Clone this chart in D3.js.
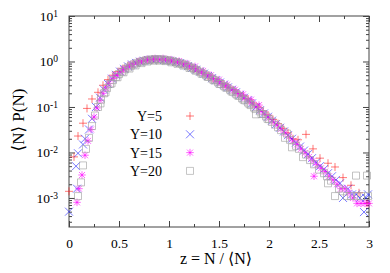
<!DOCTYPE html>
<html>
<head>
<meta charset="utf-8">
<style>
  body { margin: 0; background: #fff; }
  svg { display: block; font-family: "Liberation Serif", "DejaVu Serif", serif; }
</style>
</head>
<body>
<div id="chart"></div>
<script src="https://cdn.jsdelivr.net/npm/d3@7"></script>
<script>
// [z, <N>P(N)] pairs
const y5 = [[0.00,1.4e-3],[0.05,8.0e-3],[0.09,0.023],[0.14,0.044],[0.18,0.093],[0.23,0.15],[0.29,0.21],[0.34,0.30],
  [0.39,0.40],[0.44,0.50],[0.49,0.60],[0.54,0.70],[0.59,0.80],[0.64,0.88],[0.69,0.96],[0.74,1.03],[0.79,1.08],
  [0.84,1.10],[0.89,1.10],[0.94,1.08],[0.99,1.04],[1.04,0.99],[1.09,0.95],[1.14,0.88],[1.19,0.79],[1.24,0.70],
  [1.29,0.61],[1.34,0.55],[1.39,0.48],[1.44,0.42],[1.49,0.37],[1.54,0.32],[1.59,0.27],[1.64,0.235],[1.69,0.20],
  [1.74,0.175],[1.79,0.15],[1.84,0.122],[1.89,0.10],[1.94,0.082],[1.99,0.066],[2.04,0.053],[2.09,0.043],
  [2.14,0.034],[2.19,0.027],[2.24,0.020],[2.29,0.019],[2.37,0.025],[2.44,0.012],[2.51,0.0075],[2.59,0.0058],
  [2.66,0.0048],[2.74,0.0028],[2.82,0.0019],[2.90,0.0013],[2.98,7.6e-4]];

const y10 = [[0.00,5.0e-4],[0.07,5.0e-3],[0.08,1.6e-3],[0.09,9.6e-3],[0.14,0.015],[0.16,0.020],[0.20,0.032],
  [0.23,0.055],[0.27,0.10],[0.31,0.16],[0.35,0.24],[0.39,0.32],[0.43,0.42],[0.47,0.51],[0.51,0.60],[0.55,0.69],
  [0.59,0.78],[0.63,0.86],[0.67,0.93],[0.71,0.99],[0.75,1.04],[0.79,1.08],[0.83,1.10],[0.87,1.11],[0.91,1.10],
  [0.95,1.08],[0.99,1.05],[1.03,1.01],[1.07,0.97],[1.11,0.92],[1.15,0.86],[1.19,0.79],[1.23,0.72],[1.27,0.66],
  [1.31,0.60],[1.35,0.54],[1.39,0.48],[1.43,0.43],[1.47,0.385],[1.51,0.345],[1.55,0.31],[1.59,0.27],[1.63,0.24],
  [1.67,0.21],[1.71,0.185],[1.75,0.16],[1.79,0.14],[1.83,0.12],[1.87,0.10],[1.91,0.085],[1.95,0.072],[1.99,0.061],
  [2.03,0.050],[2.07,0.042],[2.11,0.035],[2.15,0.029],[2.19,0.024],[2.23,0.020],[2.27,0.0165],[2.31,0.0135],
  [2.35,0.011],[2.39,0.0092],[2.43,0.0075],[2.47,0.0060],[2.51,0.0050],[2.55,0.0043],[2.59,0.0035],[2.63,0.0030],
  [2.67,0.0025],[2.71,0.0021],[2.74,0.0010],[2.79,0.0016],[2.83,0.0012],[2.87,0.0012],[2.91,0.0010],[2.95,4.9e-4],
  [2.97,0.0010],[2.99,0.0012]];

const y15 = [[0.08,8.0e-4],[0.10,1.6e-3],[0.13,3.2e-3],[0.16,8.7e-3],[0.19,0.018],[0.22,0.032],[0.25,0.060],
  [0.28,0.095],[0.31,0.14],[0.34,0.20],[0.37,0.26],[0.40,0.33],[0.44,0.42],[0.46,0.49],[0.48,0.50],[0.52,0.59],
  [0.54,0.68],[0.56,0.68],[0.60,0.77],[0.62,0.86],[0.64,0.86],[0.68,0.94],[0.70,1.02],[0.72,1.00],[0.76,1.05],
  [0.78,1.12],[0.80,1.09],[0.84,1.11],[0.86,1.17],[0.88,1.12],[0.92,1.11],[0.94,1.17],[0.96,1.09],[1.00,1.06],
  [1.02,1.10],[1.04,1.02],[1.08,0.98],[1.10,1.02],[1.12,0.93],[1.16,0.86],[1.18,0.90],[1.20,0.79],[1.24,0.72],
  [1.26,0.78],[1.28,0.65],[1.32,0.58],[1.34,0.62],[1.36,0.52],[1.40,0.47],[1.42,0.50],[1.44,0.42],[1.48,0.37],
  [1.50,0.40],[1.52,0.33],[1.56,0.29],[1.58,0.31],[1.60,0.26],[1.64,0.23],[1.66,0.24],[1.68,0.20],[1.72,0.175],
  [1.74,0.19],[1.76,0.155],[1.80,0.135],[1.82,0.145],[1.84,0.115],[1.88,0.098],[1.90,0.11],[1.92,0.082],
  [1.96,0.069],[2.00,0.058],[2.04,0.048],[2.08,0.040],[2.12,0.033],[2.16,0.027],[2.20,0.022],[2.24,0.018],
  [2.28,0.015],[2.32,0.012],[2.36,0.0098],[2.40,0.0080],[2.44,0.0066],[2.45,0.0030],[2.48,0.0054],[2.52,0.0045],
  [2.56,0.0038],[2.60,0.0030],[2.64,0.0025],[2.68,0.0020],[2.72,0.0016],[2.76,0.0016],[2.80,0.0013],
  [2.84,0.0010],[2.88,7.6e-4],[2.92,7.6e-4],[2.96,7.6e-4],[3.00,7.6e-4]];

const y20 = [[0.09,1.1e-3],[0.12,2.2e-3],[0.14,5.2e-3],[0.17,0.012],[0.20,0.021],[0.23,0.038],[0.26,0.065],
  [0.29,0.10],[0.315,0.12],[0.32,0.145],[0.35,0.20],[0.365,0.21],[0.38,0.26],[0.41,0.32],[0.425,0.33],[0.44,0.39],
  [0.47,0.46],[0.485,0.45],[0.50,0.53],[0.53,0.60],[0.545,0.58],[0.56,0.67],[0.59,0.74],[0.605,0.70],[0.62,0.81],
  [0.65,0.87],[0.665,0.82],[0.68,0.93],[0.71,0.98],[0.725,0.92],[0.74,1.02],[0.77,1.06],[0.785,1.00],[0.80,1.09],
  [0.83,1.11],[0.845,1.04],[0.86,1.12],[0.89,1.12],[0.905,1.04],[0.92,1.11],[0.95,1.10],[0.965,1.02],[0.98,1.07],
  [1.01,1.04],[1.025,0.96],[1.04,1.01],[1.07,0.97],[1.085,0.89],[1.10,0.93],[1.13,0.89],[1.145,0.81],[1.16,0.84],
  [1.19,0.79],[1.205,0.72],[1.22,0.74],[1.25,0.69],[1.265,0.63],[1.28,0.64],[1.31,0.59],[1.325,0.54],[1.34,0.54],
  [1.37,0.50],[1.385,0.46],[1.40,0.46],[1.43,0.42],[1.445,0.39],[1.46,0.385],[1.49,0.35],[1.505,0.32],[1.52,0.32],
  [1.55,0.29],[1.565,0.27],[1.58,0.265],[1.61,0.24],[1.625,0.22],[1.64,0.215],[1.67,0.195],[1.685,0.18],
  [1.70,0.175],[1.73,0.155],[1.745,0.145],[1.76,0.14],[1.79,0.125],[1.805,0.115],[1.82,0.11],[1.85,0.097],
  [1.865,0.09],[1.87,0.069],[1.91,0.080],[1.925,0.07],[1.94,0.070],[1.97,0.062],[1.985,0.055],[2.00,0.054],
  [2.03,0.047],[2.06,0.041],[2.09,0.036],[2.12,0.031],[2.16,0.021],[2.18,0.026],[2.21,0.019],[2.23,0.013],
  [2.27,0.014],[2.30,0.012],[2.34,0.0079],[2.37,0.0090],[2.41,0.0068],[2.45,0.0055],[2.50,0.0042],[2.55,0.0035],
  [2.58,0.0030],[2.59,0.0021],[2.62,0.0024],[2.66,0.0011],[2.70,0.0016],[2.74,0.0014],[2.78,0.0011],[2.82,0.0011],
  [2.87,0.0031],[2.88,0.0011],[2.92,0.0011],[2.98,0.0031],[2.99,0.0011]];

const seriesNames = ["Y=5", "Y=10", "Y=15", "Y=20"];
const seriesData = [y5, y10, y15, y20];
const seriesColors = ["#ff2020", "#2020ff", "#ff00ff", "#a0a0a0"];
const seriesShapes = ["plus", "cross", "star", "square"];
const xTicks = [0, 0.5, 1, 1.5, 2, 2.5, 3];
const yTicks = [1e-3, 1e-2, 1e-1, 1, 10];

const W = 390, H = 273;
const margin = {top: 16, right: 21, bottom: 46, left: 69};
const serif = '"Liberation Serif", "DejaVu Serif", serif';

const svg = d3.select("#chart").append("svg")
  .attr("width", W).attr("height", H);

const x = d3.scaleLinear().domain([0, 3]).range([margin.left, W - margin.right]);
const y = d3.scaleLog().domain([2.3e-4, 10]).range([H - margin.bottom, margin.top]);

const axisColor = "#444";
const minorX = d3.range(0, 3.01, 0.25).filter(v => Math.abs(v * 2 - Math.round(v * 2)) > 1e-6);
const minorY = [];
yTicks.slice(0, -1).forEach(d => { for (let k = 2; k < 10; k++) minorY.push(d * k); });
[3, 4, 5, 6, 7, 8, 9].forEach(k => minorY.push(1e-4 * k));

function styleAxis(g) {
  g.select(".domain").remove();
  g.selectAll("line").attr("stroke", axisColor);
}

// minor ticks on all four sides
svg.append("g").attr("transform", `translate(0,${H - margin.bottom})`)
  .call(d3.axisBottom(x).tickValues(minorX).tickSize(-3).tickFormat("")).call(styleAxis);
svg.append("g").attr("transform", `translate(0,${margin.top})`)
  .call(d3.axisTop(x).tickValues(minorX).tickSize(-3).tickFormat("")).call(styleAxis);
svg.append("g").attr("transform", `translate(${margin.left},0)`)
  .call(d3.axisLeft(y).tickValues(minorY.filter(v => v >= 2.3e-4)).tickSize(-3).tickFormat("")).call(styleAxis);
svg.append("g").attr("transform", `translate(${W - margin.right},0)`)
  .call(d3.axisRight(y).tickValues(minorY.filter(v => v >= 2.3e-4)).tickSize(-3).tickFormat("")).call(styleAxis);

// major ticks
const xAxis = svg.append("g").attr("transform", `translate(0,${H - margin.bottom})`)
  .call(d3.axisBottom(x).tickValues(xTicks).tickSize(-6).tickPadding(11).tickFormat(d => d3.format("~g")(d)))
  .call(styleAxis);
xAxis.attr("font-family", serif);
xAxis.selectAll("text").attr("fill", "#000").style("font-size", "13.5px").style("font-family", serif);
svg.append("g").attr("transform", `translate(0,${margin.top})`)
  .call(d3.axisTop(x).tickValues(xTicks).tickSize(-6).tickFormat("")).call(styleAxis);

const yAxis = svg.append("g").attr("transform", `translate(${margin.left},0)`)
  .call(d3.axisLeft(y).tickValues(yTicks).tickSize(-6).tickPadding(11).tickFormat(""))
  .call(styleAxis);
yAxis.attr("font-family", serif);
yAxis.selectAll("text")
  .attr("fill", "#000").style("font-size", "13.5px").style("font-family", serif)
  .each(function(d) {
    const t = d3.select(this);
    t.append("tspan").text("10");
    t.append("tspan").attr("dy", "-0.45em").style("font-size", "9.5px").text(Math.round(Math.log10(d)));
  });
svg.append("g").attr("transform", `translate(${W - margin.right},0)`)
  .call(d3.axisRight(y).tickValues(yTicks).tickSize(-6).tickFormat("")).call(styleAxis);

// frame
svg.append("rect")
  .attr("x", margin.left).attr("y", margin.top)
  .attr("width", W - margin.left - margin.right).attr("height", H - margin.top - margin.bottom)
  .attr("fill", "none").attr("stroke", axisColor).attr("stroke-width", 1);

// marker shapes
function markerPath(shape, s) {
  const h = s / 2;
  if (shape === "plus") return `M${-h},0H${h}M0,${-h}V${h}`;
  if (shape === "cross") return `M${-h},${-h}L${h},${h}M${-h},${h}L${h},${-h}`;
  if (shape === "star") {
    const q = h * 0.8;
    return `M${-h},0H${h}M0,${-h}V${h}M${-q},${-q}L${q},${q}M${-q},${q}L${q},${-q}`;
  }
  return `M${-h},${-h}H${h}V${h}H${-h}Z`;
}
const markerSize = [8, 8, 7.5, 7];

const plot = svg.append("g");
seriesData.forEach((data, i) => {
  plot.append("g").selectAll("path")
    .data(data)
    .join("path")
    .attr("transform", d => `translate(${x(d[0])},${y(d[1])})`)
    .attr("d", markerPath(seriesShapes[i], markerSize[i]))
    .attr("fill", "none")
    .attr("stroke", seriesColors[i])
    .attr("stroke-width", 0.8)
    .attr("stroke-opacity", i === 3 ? 0.8 : 0.75);
});

// legend
const legend = svg.append("g");
seriesNames.forEach((name, i) => {
  const ly = 116 + i * 18.3;
  legend.append("text")
    .attr("x", 162).attr("y", ly).attr("dy", "0.35em")
    .attr("text-anchor", "end").style("font-size", "14px").style("font-family", serif)
    .text(name);
  legend.append("path")
    .attr("transform", `translate(190,${ly})`)
    .attr("d", markerPath(seriesShapes[i], markerSize[i]))
    .attr("fill", "none").attr("stroke", seriesColors[i]).attr("stroke-width", 0.8).attr("stroke-opacity", 0.75);
});

// axis titles
svg.append("text")
  .attr("x", 216).attr("y", 264)
  .attr("text-anchor", "middle").style("font-size", "16px").style("font-family", serif)
  .text("z = N / \u27E8N\u27E9");
svg.append("text")
  .attr("transform", "translate(18,120) rotate(-90)")
  .attr("dy", "0.35em")
  .attr("text-anchor", "middle").style("font-size", "17px").style("font-family", serif)
  .text("\u27E8N\u27E9 P(N)");
</script>
</body>
</html>
